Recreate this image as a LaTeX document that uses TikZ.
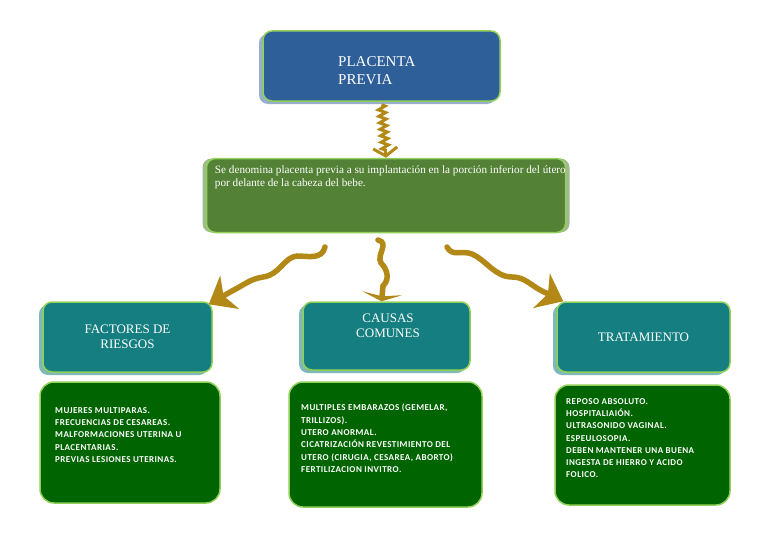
\documentclass[tikz,border=0pt]{standalone}
\usepackage{fontspec}
\setmainfont{Liberation Serif}
\newfontfamily\listfont[LetterSpace=5]{Carlito}
\usepackage{tikz}
\usetikzlibrary{decorations.pathmorphing,shadows,arrows.meta}

\definecolor{placBlue}{RGB}{47,95,152}
\definecolor{defGreen}{RGB}{83,129,53}
\definecolor{catTeal}{RGB}{20,126,128}
\definecolor{listGreen}{RGB}{0,100,0}
\definecolor{rimGreen}{RGB}{146,208,90}
\definecolor{waveGold}{RGB}{178,137,22}

\tikzset{
	box/.style={draw=rimGreen, line width=1.5pt, rounded corners=9pt, text=white, inner sep=0pt},
	dotshade/.style={drop shadow={shadow xshift=-4pt, shadow yshift=-3pt, opacity=1, fill=#1}},
	catbox/.style={box, fill=catTeal, dotshade=catTeal!55!white, font=\fontsize{13}{15}\selectfont, align=center},
	listbox/.style={box, fill=listGreen, rounded corners=14pt},
	listtxt/.style={anchor=north west, inner sep=0pt, text=white, align=left, font=\listfont\bfseries\fontsize{9}{12.3}\selectfont},
	wave/.style={draw=waveGold, line width=5.5pt, line cap=round}
}

\begin{document}
\begin{tikzpicture}[x=1pt, y=-1pt]
	\useasboundingbox (0,0) rectangle (768,543);
	% title and definition
	\node[box, fill=placBlue, dotshade=placBlue!50!white, minimum width=237pt, minimum height=70pt] (placenta) at (381.5,66) {};
	\node[anchor=west, inner sep=0pt, text=white, align=left, font=\fontsize{15}{18}\selectfont] (placentaText) at (338,71) {PLACENTA\\PREVIA};
	\node[box, fill=defGreen, minimum width=359pt, minimum height=74pt,
		drop shadow={shadow xshift=-4pt, shadow yshift=0pt, opacity=1, fill=defGreen!55!white},
		drop shadow={shadow xshift=4pt, shadow yshift=0pt, opacity=1, fill=defGreen!55!white}] (defin) at (386,195.5) {};
	\node[anchor=north west, inner sep=0pt, text=white, align=left, font=\fontsize{11.2}{13}\selectfont] (definText)
		at ([xshift=9pt, yshift=-8pt]defin.north west)
		{Se denomina placenta previa a su implantación en la porción inferior del útero\\por delante de la cabeza del bebe.};
	% the three headings
	\node[catbox, minimum width=169pt, minimum height=70pt] (factores) at (127.5,337) {FACTORES DE\\RIESGOS};
	\node[catbox, minimum width=167pt, minimum height=68pt] (causas) at (386.5,336) {};
	\node[text=white, align=center, font=\fontsize{13}{15}\selectfont, inner sep=0pt] (causasText) at (388,326) {CAUSAS\\COMUNES};
	\node[catbox, minimum width=173pt, minimum height=70pt] (tratamiento) at (643.5,337) {TRATAMIENTO};
	% the three lists
	\node[listbox, minimum width=180pt, minimum height=121pt] (riesgos) at (130,442.5) {};
	\node[listbox, minimum width=193pt, minimum height=125pt] (comunes) at (385.5,444.5) {};
	\node[listbox, minimum width=175pt, minimum height=120pt] (manejo) at (642.5,445) {};
	\node[listtxt] (riesgosText) at (55,407) {MUJERES MULTIPARAS.\\FRECUENCIAS DE CESAREAS.\\MALFORMACIONES UTERINA U\\PLACENTARIAS.\\PREVIAS LESIONES UTERINAS.};
	\node[listtxt] (comunesText) at (301,404) {MULTIPLES EMBARAZOS (GEMELAR,\\TRILLIZOS).\\UTERO ANORMAL.\\CICATRIZACIÓN REVESTIMIENTO DEL\\UTERO (CIRUGIA, CESAREA, ABORTO)\\FERTILIZACION INVITRO.};
	\node[listtxt] (manejoText) at (566,398) {REPOSO ABSOLUTO.\\HOSPITALIAIÓN.\\ULTRASONIDO VAGINAL.\\ESPEULOSOPIA.\\DEBEN MANTENER UNA BUENA\\INGESTA DE HIERRO Y ACIDO\\FOLICO.};
	% connectors
	\coordinate (leftFrom) at (325,247);
	\coordinate (midFrom) at (378,240);
	\coordinate (rightFrom) at (447,247);
	\draw[waveGold, line width=3pt, decorate, decoration={zigzag, amplitude=3.5pt, segment length=6.5pt, post length=5pt},
		-{Straight Barb[length=8pt, width=24pt]}] ([yshift=-3pt]placenta.south) -- (defin.north);
	\draw[wave, -{Stealth[length=24pt, width=38pt, inset=7pt]}] (leftFrom)
		.. controls (322,260) and (308,256) .. (297,256)
		.. controls (284,257) and (280,275) .. (263,277)
		.. controls (250,279) and (244,285) .. (232,291) -- ([xshift=-4pt, yshift=-3pt]factores.north east);
	\draw[wave, -{Stealth[length=8pt, width=40pt, inset=3pt]}] (midFrom)
		.. controls (390,243) and (376,255) .. (381,263)
		.. controls (386,268) and (391,278) .. (383,286) -- ([xshift=-5pt]causas.north);
	\draw[wave, -{Stealth[length=24pt, width=38pt, inset=7pt]}] (rightFrom)
		.. controls (452,257) and (462,250) .. (472,254)
		.. controls (486,260) and (495,277) .. (512,277)
		.. controls (525,277) and (530,285) .. (542,291) -- ([xshift=7pt]tratamiento.north west);
\end{tikzpicture}
\end{document}
